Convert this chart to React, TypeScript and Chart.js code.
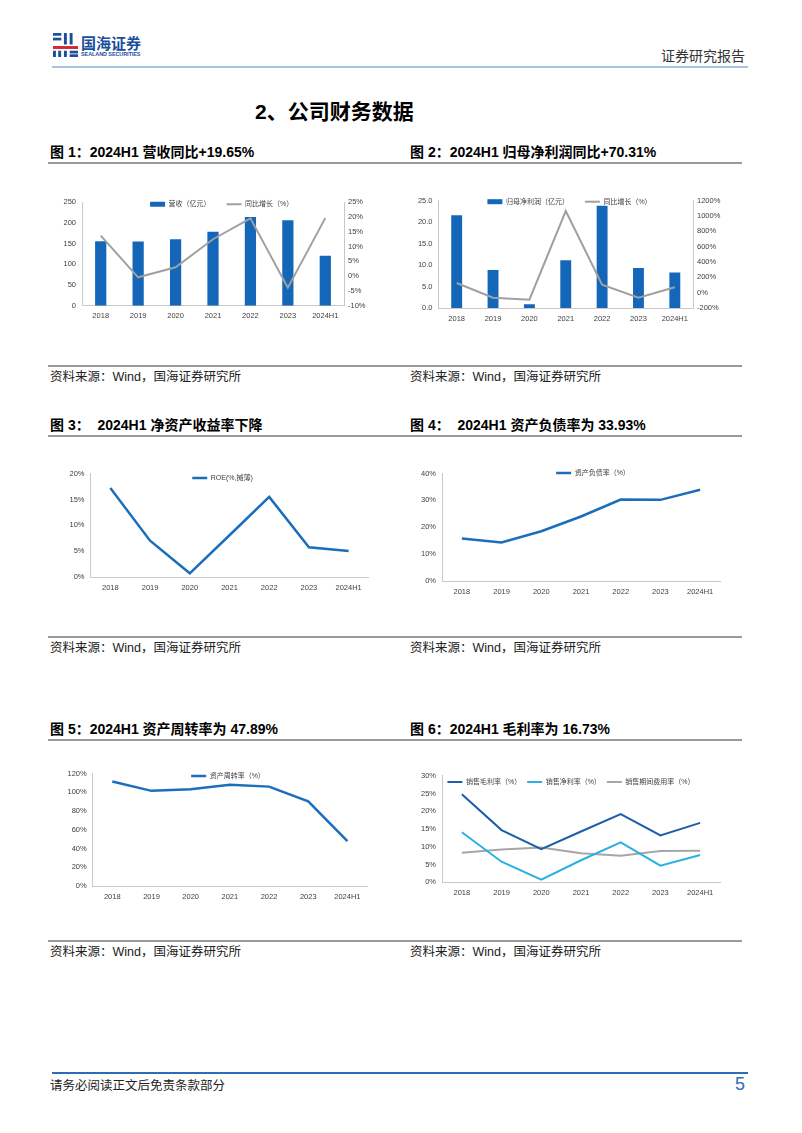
import React, { useEffect, useRef } from "react";
import { Chart, registerables } from "chart.js";
Chart.register(...registerables);

// ---------- data ----------
const years = ["2018", "2019", "2020", "2021", "2022", "2023", "2024H1"];
const revenue = [156, 155, 160.5, 179, 214.5, 206.5, 121];
const revenueYoY = [13.7, -0.4, 3.0, 12.5, 19.6, -3.9, 19.65];
const netProfit = [21.6, 8.85, 0.85, 11.1, 23.8, 9.3, 8.3];
const netProfitYoY = [126, -65, -91, 1065, 104, -65, 70.31];
const roe = [17.2, 7.05, 0.77, 8.1, 15.5, 5.8, 5.06];
const debtRatio = [15.8, 14.3, 18.5, 24.0, 30.3, 30.2, 33.93];
const assetTurnover = [111.5, 101.5, 103.3, 108.0, 106.0, 90.2, 47.89];
const grossMargin = [24.75, 14.7, 9.3, 14.3, 19.2, 13.2, 16.73];
const netMargin = [14.1, 5.8, 0.75, 6.2, 11.25, 4.7, 7.7];
const expenseRatio = [8.35, 9.2, 9.8, 8.2, 7.5, 8.8, 8.9];

const figTitles = [
  "图 1：2024H1 营收同比+19.65%",
  "图 2：2024H1 归母净利润同比+70.31%",
  "图 3：  2024H1 净资产收益率下降",
  "图 4：  2024H1 资产负债率为 33.93%",
  "图 5：2024H1 资产周转率为 47.89%",
  "图 6：2024H1 毛利率为 16.73%",
];
const sourceText = "资料来源：Wind，国海证券研究所";

// ---------- styles ----------
const FONT = "'Liberation Sans', Arial, 'Noto Sans CJK SC', sans-serif";
const CJK = "'Liberation Sans', 'Noto Sans CJK SC', sans-serif";
const AXIS = "#c8c8c8";
const TICK = "#404040";
const BLUE = "#1467b8";
const LINEBLUE = "#1a6ebc";
const GRAY = "#a0a0a0";

type Box = { x: number; y: number; w: number; h: number };
type Plot = { l: number; t: number; r: number; b: number };
type AxisSpec = { min: number; max: number; step: number; fmt: (v: number) => string };

function overlayLegend(cx: number, cy: number) {
  return {
    id: "overlayLegend",
    beforeInit(chart: any) {
      const lg = chart.legend;
      if (!lg) return;
      const fit = lg.fit;
      lg.fit = function () {
        fit.call(this);
        this.height = 0;
      };
      const draw = lg.draw;
      lg.draw = function () {
        const hb = this.legendHitBoxes || [];
        if (!hb.length) return;
        let minL = Infinity, maxR = -Infinity, minT = Infinity, maxB = -Infinity;
        for (const h of hb) {
          minL = Math.min(minL, h.left);
          maxR = Math.max(maxR, h.left + h.width);
          minT = Math.min(minT, h.top);
          maxB = Math.max(maxB, h.top + h.height);
        }
        const ctx = this.ctx;
        const oldBottom = this.bottom;
        const oldHeight = this.height;
        this.bottom = this.top + 200;
        this.height = 200;
        ctx.save();
        ctx.translate(cx - (minL + maxR) / 2, cy - (minT + maxB) / 2);
        draw.call(this);
        ctx.restore();
        this.bottom = oldBottom;
        this.height = oldHeight;
      };
    },
  };
}

function buildOptions(box: Box, plot: Plot, legendPad: number, left: AxisSpec, right?: AxisSpec) {
  const leftW = plot.l - box.x;
  const rightW = box.x + box.w - plot.r;
  const xH = box.y + box.h - plot.b;
  const tickFont = { family: FONT, size: 7.5 };
  const scales: any = {
    x: {
      offset: true,
      grid: { display: false, drawTicks: false },
      border: { display: true, color: AXIS },
      ticks: { font: tickFont, color: TICK, padding: 6, maxRotation: 0, autoSkip: false },
      afterFit: (s: any) => {
        s.height = xH;
      },
    },
    y: {
      position: "left",
      min: left.min,
      max: left.max,
      grid: { display: false, drawTicks: false },
      border: { display: true, color: AXIS },
      ticks: { stepSize: left.step, font: tickFont, color: TICK, padding: 6, callback: (v: any) => left.fmt(Number(v)) },
      afterFit: (s: any) => {
        s.width = leftW;
      },
    },
  };
  if (right) {
    scales.y1 = {
      position: "right",
      min: right.min,
      max: right.max,
      grid: { display: false, drawTicks: false },
      border: { display: true, color: AXIS },
      ticks: { stepSize: right.step, font: tickFont, color: TICK, padding: 4, callback: (v: any) => right.fmt(Number(v)) },
      afterFit: (s: any) => {
        s.width = rightW;
      },
    };
  }
  return {
    responsive: false,
    animation: false,
    devicePixelRatio: 1,
    layout: { padding: { top: plot.t - box.y, left: 0, right: right ? 0 : rightW, bottom: 0 } },
    plugins: {
      legend: {
        position: "top",
        align: "center",
        labels: {
          font: { family: FONT, size: 7 },
          color: TICK,
          usePointStyle: true,
          pointStyleWidth: 15,
          boxHeight: 5,
          padding: legendPad,
          sort: (a: any, b: any) => a.datasetIndex - b.datasetIndex,
        },
      },
      tooltip: { enabled: false },
    },
    scales,
  };
}

const pct = (v: number) => `${Math.round(v)}%`;

type Spec = { box: Box; config: () => any };

function lineDs(label: string, data: number[], color: string, width: number, axis = "y") {
  return {
    type: "line",
    label,
    data,
    borderColor: color,
    backgroundColor: color,
    borderWidth: width,
    pointRadius: 0,
    tension: 0,
    pointStyle: "line",
    yAxisID: axis,
    order: 0,
  };
}

function barDs(label: string, data: number[]) {
  return {
    type: "bar",
    label,
    data,
    backgroundColor: BLUE,
    borderWidth: 0,
    barPercentage: 0.6,
    categoryPercentage: 0.5,
    pointStyle: "rect",
    yAxisID: "y",
    order: 1,
  };
}

function makeSpec(box: Box, plot: Plot, legendC: [number, number], legendPad: number, datasets: any[], left: AxisSpec, right?: AxisSpec): Spec {
  return {
    box,
    config: () => ({
      type: "bar",
      data: { labels: years, datasets },
      options: buildOptions(box, plot, legendPad, left, right),
      plugins: [overlayLegend(legendC[0] - box.x, legendC[1] - box.y)],
    }),
  };
}

const specs: Spec[] = [
  makeSpec(
    { x: 52, y: 190, w: 322, h: 134 },
    { l: 82, t: 202.3, r: 344, b: 305.7 },
    [221.7, 204.3],
    16,
    [barDs("营收（亿元）", revenue), lineDs("同比增长（%）", revenueYoY, GRAY, 2, "y1")],
    { min: 0, max: 250, step: 50, fmt: (v) => `${v}` },
    { min: -10, max: 25, step: 5, fmt: pct }
  ),
  makeSpec(
    { x: 405, y: 190, w: 325, h: 135 },
    { l: 438.5, t: 200.7, r: 693, b: 308 },
    [569.5, 201.7],
    16,
    [barDs("归母净利润（亿元）", netProfit), lineDs("同比增长（%）", netProfitYoY, GRAY, 2, "y1")],
    { min: 0, max: 25, step: 5, fmt: (v) => v.toFixed(1) },
    { min: -200, max: 1200, step: 200, fmt: pct }
  ),
  makeSpec(
    { x: 55, y: 463, w: 320, h: 135 },
    { l: 90.5, t: 473.3, r: 368.5, b: 577.3 },
    [222.5, 478],
    10,
    [lineDs("ROE(%,摊薄)", roe, LINEBLUE, 2.5)],
    { min: 0, max: 20, step: 5, fmt: pct }
  ),
  makeSpec(
    { x: 405, y: 463, w: 325, h: 140 },
    { l: 442, t: 472.7, r: 720, b: 581 },
    [593, 473],
    10,
    [lineDs("资产负债率（%）", debtRatio, LINEBLUE, 2.5)],
    { min: 0, max: 40, step: 10, fmt: pct }
  ),
  makeSpec(
    { x: 55, y: 763, w: 320, h: 140 },
    { l: 92.7, t: 773.3, r: 367, b: 886 },
    [228, 776],
    10,
    [lineDs("资产周转率（%）", assetTurnover, LINEBLUE, 2.5)],
    { min: 0, max: 120, step: 20, fmt: pct }
  ),
  makeSpec(
    { x: 405, y: 765, w: 325, h: 135 },
    { l: 442, t: 775.7, r: 720, b: 882.3 },
    [571, 782],
    6,
    [
      lineDs("销售毛利率（%）", grossMargin, "#1c5ea8", 2),
      lineDs("销售净利率（%）", netMargin, "#2ab0e4", 2),
      lineDs("销售期间费用率（%）", expenseRatio, "#a6a6a6", 2),
    ],
    { min: 0, max: 30, step: 5, fmt: pct }
  ),
];

function ChartCanvas({ spec }: { spec: Spec }) {
  const ref = useRef<HTMLCanvasElement>(null);
  useEffect(() => {
    const chart = new Chart(ref.current as HTMLCanvasElement, spec.config());
    return () => chart.destroy();
  }, [spec]);
  const { x, y, w, h } = spec.box;
  return <canvas ref={ref} width={w} height={h} style={{ position: "absolute", left: x, top: y, width: w, height: h }} />;
}

function Txt(props: { x: number; y: number; size: number; bold?: boolean; color?: string; right?: boolean; children: React.ReactNode }) {
  const { x, y, size, bold, color, right, children } = props;
  const style: React.CSSProperties = {
    position: "absolute",
    top: y - size * 0.6,
    fontSize: size,
    lineHeight: `${size * 1.2}px`,
    fontWeight: bold ? 700 : 400,
    color: color || "#222",
    whiteSpace: "pre",
    fontFamily: CJK,
  };
  if (right) style.right = 802 - x;
  else style.left = x;
  return <div style={style}>{children}</div>;
}

function HLine({ x1, x2, y, color, w }: { x1: number; x2: number; y: number; color: string; w: number }) {
  return <div style={{ position: "absolute", left: x1, top: y - w / 2, width: x2 - x1, height: w, background: color }} />;
}

function Logo() {
  const b = "#1b4f9c";
  const r = "#d7262e";
  return (
    <svg style={{ position: "absolute", left: 53, top: 33 }} width={25} height={24} viewBox="0 0 24 23">
      <rect x={0} y={0} width={8} height={2.6} fill={b} />
      <rect x={0} y={4.5} width={8} height={2.6} fill={b} />
      <rect x={10.5} y={0} width={2.8} height={11} fill={b} />
      <rect x={16} y={0} width={2.8} height={11} fill={b} />
      <rect x={0} y={12.5} width={24} height={2.8} fill={r} />
      <rect x={0} y={17} width={2.8} height={6} fill={b} />
      <rect x={5} y={17} width={2.8} height={6} fill={b} />
      <rect x={10.5} y={17} width={2.8} height={6} fill={b} />
      <rect x={16} y={17} width={8} height={2.6} fill={b} />
      <rect x={16} y={20.4} width={8} height={2.6} fill={b} />
    </svg>
  );
}

export default function App() {
  const rowTitleY = [152, 425, 729];
  const titleLineY = [163, 436, 740];
  const srcLineY = [366, 637, 941];
  const srcY = [377, 648, 952];
  return (
    <div style={{ position: "absolute", left: 0, top: 0, width: 802, height: 1133, background: "#fff", overflow: "hidden", fontFamily: CJK }}>
      <Logo />
      <Txt x={81} y={44} size={15} bold color="#1b4f9c">国海证券</Txt>
      <div style={{ position: "absolute", left: 81, top: 51, fontSize: 5.5, lineHeight: "6px", fontWeight: 700, color: "#1b4f9c", fontFamily: FONT, letterSpacing: -0.1 }}>
        SEALAND SECURITIES
      </div>
      <Txt x={745} y={56} size={14} right color="#333">证券研究报告</Txt>
      <HLine x1={52} x2={748} y={67} color="#a4c2e6" w={2} />

      <Txt x={255} y={112} size={21} bold color="#000">2、公司财务数据</Txt>

      {rowTitleY.map((y, i) => (
        <React.Fragment key={"t" + i}>
          <Txt x={50} y={y} size={14} bold color="#000">{figTitles[i * 2]}</Txt>
          <Txt x={410} y={y} size={14} bold color="#000">{figTitles[i * 2 + 1]}</Txt>
          <HLine x1={48} x2={742} y={titleLineY[i]} color="#9a9a9a" w={1.5} />
          <HLine x1={48} x2={742} y={srcLineY[i]} color="#9a9a9a" w={1.2} />
          <Txt x={50} y={srcY[i]} size={12.5} color="#222">{sourceText}</Txt>
          <Txt x={410} y={srcY[i]} size={12.5} color="#222">{sourceText}</Txt>
        </React.Fragment>
      ))}

      {specs.map((s, i) => (
        <ChartCanvas key={i} spec={s} />
      ))}

      <HLine x1={52} x2={748} y={1073} color="#2e6db4" w={1.5} />
      <Txt x={50} y={1086} size={12.5} color="#222">请务必阅读正文后免责条款部分</Txt>
      <Txt x={745} y={1085} size={18} right color="#2e6db4">5</Txt>
    </div>
  );
}
